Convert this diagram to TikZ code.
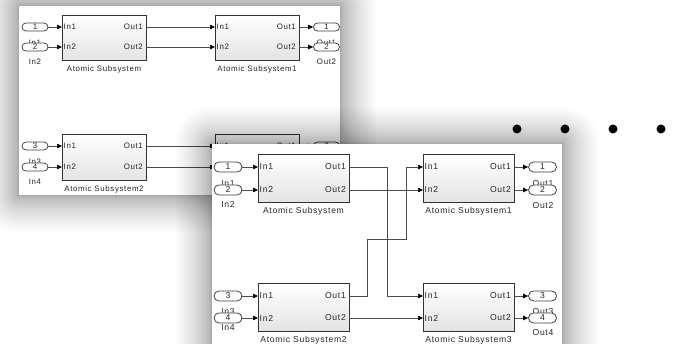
\documentclass[tikz,border=0pt]{standalone}
\usepackage{fontspec}
\newfontfamily\uifont{Liberation Sans}[LetterSpace=8]
\usetikzlibrary{arrows.meta}
\tikzset{
  blk/.style={draw=black!80, line width=1.3pt, top color=white, bottom color=black!11, inner sep=0pt},
  ft/.style={font=\uifont\fontsize{8.6}{10}\selectfont, text=black!85, inner sep=0pt},
  bt/.style={font=\uifont\fontsize{7.9}{9}\selectfont, text=black!85, inner sep=0pt},
  fport/.style={draw=black!75, line width=0.8pt, fill=white, rounded corners=5pt, minimum width=28, minimum height=10, inner sep=0pt, ft},
  bport/.style={draw=black!75, line width=0.75pt, fill=white, rounded corners=4pt, minimum width=26, minimum height=8, inner sep=0pt, bt},
  sig/.style={draw=black!70, line width=0.7pt, -{Triangle[length=5pt,width=4.5pt,color=black]}},
  dotmark/.style={circle, fill=black, minimum size=9, inner sep=0pt}
}
\newcommand\glow[4]{%
  \foreach \k in {1,...,20}{%
    \pgfmathsetmacro\dd{\k*\k/11}%
    \fill[black,fill opacity=0.021,rounded corners=\dd pt] ({#1-\dd},{#2-\dd}) rectangle ({#3+\dd},{#4+\dd});
  }}
\newcommand\subsys[9]{%
  \node[blk,anchor=north west,minimum width={#4-#2},minimum height={#5-#3}] (#1) at (#2,#3) {};
  \coordinate (#1-i1) at (#2,#6);
  \coordinate (#1-i2) at (#2,#7);
  \coordinate (#1-o1) at (#4,#6);
  \coordinate (#1-o2) at (#4,#7);
  \node[#9,anchor=west] (#1-ti1) at ({#2+1.5},#6) {In1};
  \node[#9,anchor=west] (#1-ti2) at ({#2+1.5},#7) {In2};
  \node[#9,anchor=east] (#1-to1) at ({#4-3},#6) {Out1};
  \node[#9,anchor=east] (#1-to2) at ({#4-3},#7) {Out2};
  \node[#9] (#1-lbl) at ({(#2+#4)/2},{#5+9}) {#8};
}
\begin{document}
\begin{tikzpicture}[x=1pt,y=-1pt]
\useasboundingbox (0,0) rectangle (675,344);
\clip (0,0) rectangle (675,344);
\fill[white] (0,0) rectangle (675,344);

% ---------- back panel ----------
\glow{19}{6}{340}{195}
\fill[white] (19,6) rectangle (340,195);

\node[bt] (lbi1) at (35,43) {In1};
\node[bt] (lbi2) at (35,62) {In2};
\node[bt] (lbo1) at (326.5,43) {Out1};
\node[bt] (lbo2) at (326.5,62) {Out2};
\node[bt] (lbi3) at (35,162) {In3};
\node[bt] (lbi4) at (35,182) {In4};
\node[bt] (lbo3) at (326.5,162) {Out3};
\node[bt] (lbo4) at (326.5,182) {Out4};

\node[bport] (bi1) at (35,27) {1};
\node[bport] (bi2) at (35,47) {2};
\node[bport] (bo1) at (326.5,27) {1};
\node[bport] (bo2) at (326.5,47) {2};
\node[bport] (bi3) at (35,146) {3};
\node[bport] (bi4) at (35,167) {4};
\node[bport] (bo3) at (326.5,146) {3};
\node[bport] (bo4) at (326.5,167) {4};

\subsys{BA}{62}{15}{146}{60}{27}{47}{Atomic Subsystem}{bt}
\subsys{BB}{215}{15}{299}{60}{27}{47}{Atomic Subsystem1}{bt}
\subsys{BC}{62}{134}{146}{180}{146}{167}{Atomic Subsystem2}{bt}
\subsys{BD}{215}{134}{299}{180}{146}{167}{Atomic Subsystem3}{bt}

\draw[sig] (bi1) -- (BA-i1);
\draw[sig] (bi2) -- (BA-i2);
\draw[sig] (BA-o1) -- (BB-i1);
\draw[sig] (BA-o2) -- (BB-i2);
\draw[sig] (BB-o1) -- (bo1);
\draw[sig] (BB-o2) -- (bo2);
\draw[sig] (bi3) -- (BC-i1);
\draw[sig] (bi4) -- (BC-i2);
\draw[sig] (BC-o1) -- (BD-i1);
\draw[sig] (BC-o2) -- (BD-i2);
\draw[sig] (BD-o1) -- (bo3);
\draw[sig] (BD-o2) -- (bo4);

% ---------- front panel ----------
\glow{212}{144}{562}{360}
\fill[white] (212,144) rectangle (562,360);

\node[ft] (lfi1) at (228,184) {In1};
\node[ft] (lfi2) at (228,205) {In2};
\node[ft] (lfo1) at (543,184) {Out1};
\node[ft] (lfo2) at (543,206) {Out2};
\node[ft] (lfi3) at (228,312) {In3};
\node[ft] (lfi4) at (228,328) {In4};
\node[ft] (lfo3) at (543,312) {Out3};
\node[ft] (lfo4) at (543,333) {Out4};

\node[fport] (fi1) at (228,167) {1};
\node[fport] (fi2) at (228,190) {2};
\node[fport] (fo1) at (542.5,167) {1};
\node[fport] (fo2) at (542.5,190) {2};
\node[fport] (fi3) at (228,296) {3};
\node[fport] (fi4) at (228,318) {4};
\node[fport] (fo3) at (542.5,296) {3};
\node[fport] (fo4) at (542.5,318) {4};

\subsys{FA}{258}{154}{349}{202}{167}{190}{Atomic Subsystem}{ft}
\subsys{FB}{423}{154}{514}{202}{167}{190}{Atomic Subsystem1}{ft}
\subsys{FC}{258}{283}{349}{331}{296}{318}{Atomic Subsystem2}{ft}
\subsys{FD}{423}{283}{514}{331}{296}{318}{Atomic Subsystem3}{ft}

\coordinate (ja) at (387,167);
\coordinate (j1) at (367,239);
\coordinate (j2) at (406,239);

\draw[sig] (fi1) -- (FA-i1);
\draw[sig] (fi2) -- (FA-i2);
\draw[sig] (fi3) -- (FC-i1);
\draw[sig] (fi4) -- (FC-i2);
\draw[sig] (FA-o1) -- (ja) |- (FD-i1);
\draw[sig] (FA-o2) -- (FB-i2);
\draw[sig] (FC-o1) -| (j1) -- (j2) |- (FB-i1);
\draw[sig] (FC-o2) -- (FD-i2);
\draw[sig] (FB-o1) -- (fo1);
\draw[sig] (FB-o2) -- (fo2);
\draw[sig] (FD-o1) -- (fo3);
\draw[sig] (FD-o2) -- (fo4);

% ---------- dots ----------
\node[dotmark] (d1) at (517,129) {};
\node[dotmark] (d2) at (565,129) {};
\node[dotmark] (d3) at (613,129) {};
\node[dotmark] (d4) at (661,129) {};
\end{tikzpicture}
\end{document}
